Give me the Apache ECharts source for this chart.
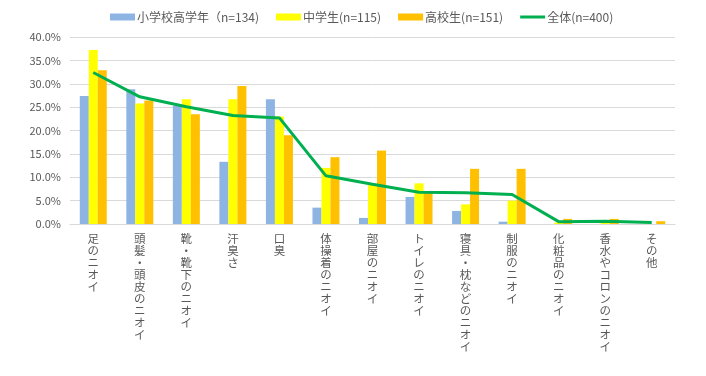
<!DOCTYPE html>
<html><head><meta charset="utf-8">
<script src="https://cdn.jsdelivr.net/npm/echarts@6/dist/echarts.min.js"></script>
<style>html,body{margin:0;padding:0;background:#fff}#c{width:706px;height:376px}</style>
</head><body><div id="c"></div>
<script>
const categories = ["足のニオイ","頭髪・頭皮のニオイ","靴・靴下のニオイ","汗臭さ","口臭","体操着のニオイ","部屋のニオイ","トイレのニオイ","寝具・枕などのニオイ","制服のニオイ","化粧品のニオイ","香水やコロンのニオイ","その他"];
const seriesNames = ["小学校高学年（n=134)","中学生(n=115)","高校生(n=151)","全体(n=400)"];
const elementary = [27.4,28.8,25.3,13.3,26.7,3.5,1.3,5.8,2.8,0.5,0,0,0];
const juniorHigh = [37.2,25.8,26.7,26.7,23.0,12.0,8.5,8.7,4.2,5.0,0.3,0.3,0];
const highSchool = [32.9,26.4,23.5,29.5,19.0,14.3,15.7,6.6,11.8,11.8,1.1,1.1,0.6];
const overall = [32.4,27.2,25.1,23.2,22.7,10.3,8.5,6.8,6.7,6.3,0.5,0.6,0.3];
const yTicks = {min:0, max:40, interval:5};

const font = '"Noto Sans CJK JP", sans-serif';
const lineIcon = 'path://M0,0 L25,0 L25,0.01 Z M0,2 L25,2 L25,5 L0,5 Z M0,7 L25,7 L25,7.01 Z';
const chart = echarts.init(document.getElementById('c'));
chart.setOption({
  animation:false,
  textStyle:{fontFamily:font},
  legend:{
    top:6, left:105, itemWidth:25, itemHeight:7, itemGap:17,
    textStyle:{fontSize:12, color:'#595959', fontFamily:font, padding:[0,0,0,-3]},
    data:[
      {name:seriesNames[0], icon:'rect'},
      {name:seriesNames[1], icon:'rect'},
      {name:seriesNames[2], icon:'rect'},
      {name:seriesNames[3], icon:lineIcon}
    ]
  },
  grid:{left:70, right:31, top:37, bottom:152},
  xAxis:{
    type:'category', data:categories,
    axisTick:{show:false},
    axisLine:{lineStyle:{color:'#D9D9D9'}},
    axisLabel:{
      interval:0, margin:9, fontSize:11.5, lineHeight:12, color:'#595959', fontFamily:font,
      verticalAlign:'top',
      formatter:v=>v.split('').join('\n')
    }
  },
  yAxis:{
    type:'value', min:yTicks.min, max:yTicks.max, interval:yTicks.interval,
    axisLabel:{formatter:v=>v.toFixed(1)+'%', fontSize:11, color:'#595959', margin:9, fontFamily:font},
    splitLine:{lineStyle:{color:'#D9D9D9'}},
    axisLine:{show:false}, axisTick:{show:false}
  },
  series:[
    {name:seriesNames[0], type:'bar', data:elementary, barGap:'0%', barCategoryGap:'42%', itemStyle:{color:'#8EB4E3'}},
    {name:seriesNames[1], type:'bar', data:juniorHigh, barGap:'0%', barCategoryGap:'42%', itemStyle:{color:'#FFFF00'}},
    {name:seriesNames[2], type:'bar', data:highSchool, barGap:'0%', barCategoryGap:'42%', itemStyle:{color:'#FFC000'}},
    {name:seriesNames[3], type:'line', data:overall, symbol:'none', lineStyle:{color:'#00B050', width:3}, itemStyle:{color:'#00B050'}, z:5}
  ]
});
</script></body></html>
